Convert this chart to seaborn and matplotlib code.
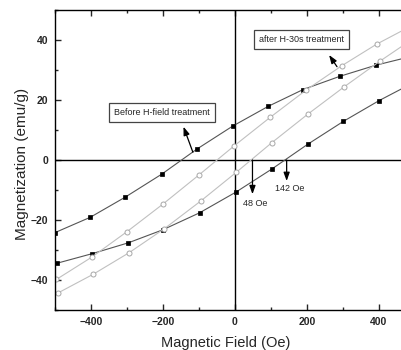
import matplotlib
matplotlib.use("Agg")
import matplotlib.pyplot as plt
import seaborn as sns
import pandas as pd
from matplotlib.ticker import MultipleLocator

sns.set_style("ticks")
plt.rcParams['font.family'] = ['Liberation Sans', 'DejaVu Sans']

# Before H-field treatment (black squares)
before_upper_x = [-500, -402, -305, -203, -106, -6, 93, 190, 292, 392, 500]
before_upper_y = [-24.2, -19.1, -12.4, -4.7, 3.6, 11.3, 17.9, 23.5, 27.9, 31.6, 34.8]
before_lower_x = [-494, -396, -296, -201, -98, 3, 103, 202, 302, 401, 500]
before_lower_y = [-34.4, -31.2, -27.6, -23.3, -17.6, -10.7, -3.0, 5.2, 12.9, 19.8, 26.0]
# after H-30s treatment (open circles)
after_upper_x = [-496, -398, -300, -200, -101, -1, 98, 198, 297, 394, 500]
after_upper_y = [-39.8, -32.4, -23.9, -14.7, -5.1, 4.8, 14.2, 23.3, 31.4, 38.6, 45.3]
after_lower_x = [-493, -394, -294, -196, -94, 4, 103, 202, 304, 404, 500]
after_lower_y = [-44.4, -38.1, -30.9, -22.9, -13.6, -4.1, 5.8, 15.2, 24.4, 33.0, 40.8]

xticks = [-400, -200, 0, 200, 400]
yticks = [-40, -20, 0, 20, 40]

fig = plt.figure(figsize=(4.02, 3.5), dpi=100)
ax = fig.add_axes([55/402, 40/350, (414.7-55)/402, 300/350])

dark_line = '#555555'
light_line = '#c0c0c0'

for xs, ys in [(before_upper_x, before_upper_y), (before_lower_x, before_lower_y)]:
    df = pd.DataFrame({'H': xs, 'M': ys})
    sns.lineplot(data=df, x='H', y='M', sort=False, estimator=None, ax=ax,
                 color=dark_line, lw=0.8, marker='s', markersize=3.2,
                 markerfacecolor='black', markeredgecolor='black', markeredgewidth=0.5)
for xs, ys in [(after_upper_x, after_upper_y), (after_lower_x, after_lower_y)]:
    df = pd.DataFrame({'H': xs, 'M': ys})
    sns.lineplot(data=df, x='H', y='M', sort=False, estimator=None, ax=ax,
                 color=light_line, lw=0.8, marker='o', markersize=3.6,
                 markerfacecolor='white', markeredgecolor='#a8a8a8', markeredgewidth=0.7)

ax.axhline(0, color='black', lw=1.0, zorder=1)
ax.axvline(0, color='black', lw=1.0, zorder=1)

ax.set_xlim(-500, 500)
ax.set_ylim(-50, 50)
ax.set_xticks(xticks)
ax.set_yticks(yticks)
ax.xaxis.set_minor_locator(MultipleLocator(100))
ax.yaxis.set_minor_locator(MultipleLocator(10))
ax.tick_params(which='both', direction='in', top=True, right=False, width=1.0,
               labelsize=7.5, pad=5)
ax.tick_params(which='major', length=4)
ax.tick_params(which='minor', length=2.5)
ax.tick_params(axis='x', which='both', top=True)
for lab in ax.get_xticklabels() + ax.get_yticklabels():
    lab.set_fontweight('bold')
for s in ax.spines.values():
    s.set_linewidth(1.0)
    s.set_color('black')
ax.spines['right'].set_visible(False)

ax.set_xlabel('Magnetic Field (Oe)', fontsize=10.5)
ax.set_ylabel('Magnetization (emu/g)', fontsize=11)
ax.xaxis.set_label_coords((226-55)/359.7, -(336-310)/300)
ax.yaxis.set_label_coords((29-55)/359.7, 0.487)

box = dict(boxstyle='square,pad=0.55', fc='white', ec='#444444', lw=0.9)
ax.text(-203, 15.8, 'Before H-field treatment', fontsize=6.5, ha='center', va='center', bbox=box)
ax.text(184.7, 40.3, 'after H-30s treatment', fontsize=6.5, ha='center', va='center', bbox=box)

arw = dict(arrowstyle='-|>,head_length=0.5,head_width=0.18', color='black', lw=0.9,
           shrinkA=0, shrinkB=0)
ax.annotate('', xy=(-142.8, 11.1), xytext=(-116.7, 2.6), arrowprops=arw)
ax.annotate('', xy=(262, 35), xytext=(284, 31.1), arrowprops=arw)
ax.annotate('', xy=(49, -11.4), xytext=(49, 0), arrowprops=arw)
ax.annotate('', xy=(144, -7), xytext=(144, 0), arrowprops=arw)
ax.text(22, -14.4, '48 Oe', fontsize=6.5, ha='left', va='center')
ax.text(113, -9.6, '142 Oe', fontsize=6.5, ha='left', va='center')

fig.savefig('out.png', dpi=100)
